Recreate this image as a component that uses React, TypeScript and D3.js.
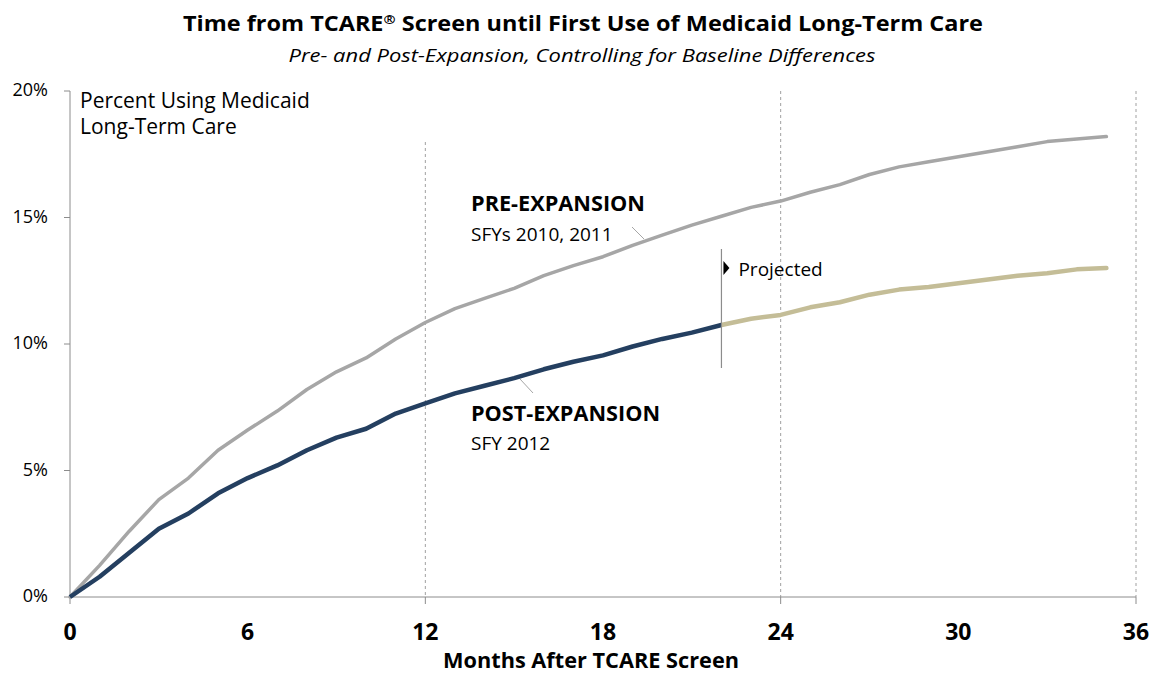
import React from 'react'
import * as d3 from 'd3'

// months after screen, 0..35
const months = d3.range(0, 36)

// PRE-EXPANSION (SFYs 2010, 2011), percent
const preValues = [
  0, 1.25, 2.6, 3.85, 4.7, 5.8, 6.6, 7.35, 8.2, 8.9, 9.45, 10.2,
  10.85, 11.4, 11.8, 12.2, 12.7, 13.1, 13.45, 13.9, 14.3, 14.7, 15.05, 15.4,
  15.65, 16.0, 16.3, 16.7, 17.0, 17.2, 17.4, 17.6, 17.8, 18.0, 18.1, 18.2,
]

// POST-EXPANSION (SFY 2012), observed through month 22
const postValues = [
  0, 0.8, 1.75, 2.7, 3.3, 4.1, 4.7, 5.2, 5.8, 6.3, 6.65, 7.25,
  7.65, 8.05, 8.35, 8.65, 9.0, 9.3, 9.55, 9.9, 10.2, 10.45, 10.75,
]

// projected post-expansion, months 22..35
const projectedValues = [
  10.75, 11.0, 11.15, 11.45, 11.65, 11.95, 12.15, 12.25, 12.4, 12.55, 12.7, 12.8, 12.95, 13.0,
]
const projectionStart = 22

const xTicks = [0, 6, 12, 18, 24, 30, 36]
const yTicks = [0, 5, 10, 15, 20]
const gridMonths = [12, 24, 36]

const font = '"Open Sans", Lato, sans-serif'

export default function App() {
  const W = 1158
  const H = 673
  const margin = { left: 70, right: 22, top: 91, bottom: 76 }

  const x = d3.scaleLinear().domain([0, 36]).range([margin.left, W - margin.right])
  const y = d3.scaleLinear().domain([0, 20]).range([H - margin.bottom, margin.top])

  const line = d3.line<[number, number]>().x(d => x(d[0])).y(d => y(d[1]))

  const prePts = months.map((m, i) => [m, preValues[i]] as [number, number])
  const postPts = postValues.map((v, i) => [i, v] as [number, number])
  const projPts = projectedValues.map((v, i) => [projectionStart + i, v] as [number, number])

  const x0 = x(0)
  const y0 = y(0)
  const px = x(projectionStart)

  return (
    <svg width={W} height={H} style={{ position: 'absolute', left: 0, top: 0, background: '#fff' }} fontFamily={font}>
      {/* titles */}
      <text x={583} y={31} textAnchor="middle" fontSize={21} fontWeight="bold" fill="#000" textLength={800} lengthAdjust="spacingAndGlyphs">
        Time from TCARE<tspan fontSize={13} dy={-7}>®</tspan><tspan dy={7}> Screen until First Use of Medicaid Long-Term Care</tspan>
      </text>
      <text x={582} y={62} textAnchor="middle" fontSize={18.5} fontStyle="italic" fill="#000" textLength={587} lengthAdjust="spacingAndGlyphs">
        Pre- and Post-Expansion, Controlling for Baseline Differences
      </text>

      {/* dashed verticals */}
      {gridMonths.map(m => (
        <line key={m} x1={x(m)} x2={x(m)} y1={m === 12 ? 142 : y(20)} y2={y0}
          stroke="#a0a0a0" strokeWidth={1} strokeDasharray="3,3" />
      ))}

      {/* y axis */}
      <line x1={x0} x2={x0} y1={y(20)} y2={y0} stroke="#8c8c8c" strokeWidth={1} />
      {yTicks.map(t => (
        <g key={t}>
          <line x1={x0 - 6} x2={x0} y1={y(t)} y2={y(t)} stroke="#8c8c8c" />
          <text x={48} y={y(t)} dy="0.3em" textAnchor="end" fontSize={18} fill="#000">{t}%</text>
        </g>
      ))}

      {/* x axis */}
      <line x1={x0} x2={x(36)} y1={y0} y2={y0} stroke="#8c8c8c" strokeWidth={1} />
      {gridMonths.concat([0]).map(m => (
        <line key={m} x1={x(m)} x2={x(m)} y1={y0} y2={y0 + 7} stroke="#8c8c8c" />
      ))}
      {xTicks.map(t => (
        <text key={t} x={x(t)} y={640} textAnchor="middle" fontSize={23} fontWeight="bold" fill="#000">{t}</text>
      ))}
      <text x={591} y={668} textAnchor="middle" fontSize={21} fontWeight="bold" fill="#000" textLength={296} lengthAdjust="spacingAndGlyphs">
        Months After TCARE Screen
      </text>

      {/* y label */}
      <text x={80} y={108} fontSize={21} fill="#000">Percent Using Medicaid</text>
      <text x={80} y={134} fontSize={21} fill="#000">Long-Term Care</text>

      {/* series */}
      <path d={line(prePts) || ''} fill="none" stroke="#a6a6a6" strokeWidth={3.5} strokeLinejoin="round" strokeLinecap="round" />
      <path d={line(projPts) || ''} fill="none" stroke="#c4bd97" strokeWidth={4.5} strokeLinejoin="round" strokeLinecap="round" />
      <path d={line(postPts) || ''} fill="none" stroke="#243f60" strokeWidth={4.5} strokeLinejoin="round" />

      {/* projected marker */}
      <line x1={px} x2={px} y1={249} y2={368} stroke="#8c8c8c" strokeWidth={1.2} />
      <path d={`M${px + 2},${261} L${px + 8},${268} L${px + 2},${275} Z`} fill="#000" />
      <text x={px + 17} y={276} fontSize={19} fill="#000">Projected</text>

      {/* annotations */}
      <text x={471} y={211} fontSize={21} fontWeight="bold" fill="#000" textLength={174} lengthAdjust="spacingAndGlyphs">PRE-EXPANSION</text>
      <text x={471} y={241} fontSize={19} fill="#000">SFYs 2010, 2011</text>
      <line x1={632} y1={227} x2={644} y2={239} stroke="#a6a6a6" strokeWidth={1} />

      <text x={471} y={421} fontSize={21} fontWeight="bold" fill="#000" textLength={189} lengthAdjust="spacingAndGlyphs">POST-EXPANSION</text>
      <text x={471} y={450} fontSize={19} fill="#000">SFY 2012</text>
      <line x1={520} y1={379} x2={533} y2={393} stroke="#a6a6a6" strokeWidth={1} />
    </svg>
  )
}
